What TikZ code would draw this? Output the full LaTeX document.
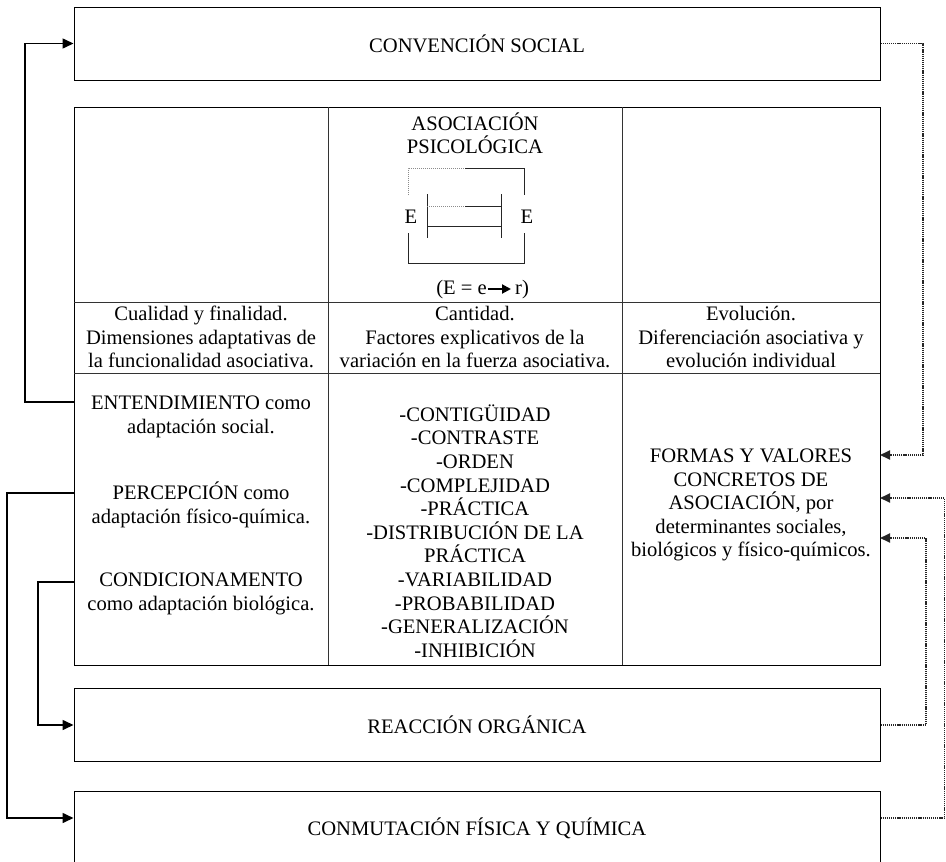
\documentclass[tikz,border=0pt]{standalone}
\usepackage{fontspec}
\setmainfont{Liberation Serif}
\usetikzlibrary{arrows.meta}
\begin{document}
\begin{tikzpicture}[x=1pt,y=-1pt,
  txt/.style={font=\fontsize{20.6}{23.5}\selectfont, align=center, inner sep=0pt},
  box/.style={draw, line width=1pt, minimum width=806pt, minimum height=73pt, inner sep=0pt, font=\fontsize{20.6}{23.5}\selectfont},
  tabline/.style={line width=1pt, black!80},
  solidcon/.style={line width=1.6pt, -{Triangle[length=11pt,width=10pt]}},
  dotcon/.style={line width=1.8pt, black!85, dash pattern=on 1.2pt off 0.9pt, -{Triangle[length=10pt,width=9pt]}},
  thinline/.style={line width=0.9pt, black!85},
  dotthin/.style={line width=0.9pt, black!45, dash pattern=on 1pt off 1pt},
  eqarrow/.style={line width=2pt, -{Triangle[length=9pt,width=9pt]}}
]
\useasboundingbox (0,0) rectangle (946,862);
\clip (0,0) rectangle (946,862);

% boxes
\node[box] (conv) at (477,43.5) {CONVENCIÓN SOCIAL};
\node[box] (reac) at (477,725) {REACCIÓN ORGÁNICA};
\node[box] (conm) at (477,828) {CONMUTACIÓN FÍSICA Y QUÍMICA};

% table
\node[draw, line width=1pt, minimum width=806pt, minimum height=558pt, inner sep=0pt] (tab) at (477,386) {};
\draw[tabline] (328,107) -- (328,665);
\draw[tabline] (622,107) -- (622,665);
\draw[tabline] (74,302) -- (880,302);
\draw[tabline] (74,373) -- (880,373);

% header
\node[txt] (asoc) at (475,133.5) {ASOCIACIÓN\\PSICOLÓGICA};
\draw[dotthin] (408,195) -- (408,168) -- (465,168);
\draw[thinline] (465,168) -- (524,168) -- (524,195);
\draw[thinline] (408,233) -- (408,263) -- (524,263) -- (524,233);
\draw[thinline] (427,194) -- (427,238);
\draw[thinline] (501,194) -- (501,238);
\draw[dotthin] (427,206) -- (465,206);
\draw[thinline] (465,206) -- (501,206);
\draw[thinline] (427,226) -- (501,226);
\node[txt] (el) at (411,217) {E};
\node[txt] (er) at (527,217) {E};
\node[txt, anchor=base east] (eqL) at (487,294) {(E = e};
\node[txt, anchor=base west] (eqR) at (515,294) {r)};
\draw[eqarrow] ([xshift=0.5pt,yshift=5pt]eqL.base east) -- ([xshift=-4pt,yshift=5pt]eqR.base west);

% row 2
\node[txt] (c1h) at (201,337) {Cualidad y finalidad.\\Dimensiones adaptativas de\\la funcionalidad asociativa.};
\node[txt] (c2h) at (475,337) {Cantidad.\\Factores explicativos de la\\variación en la fuerza asociativa.};
\node[txt] (c3h) at (751,337) {Evolución.\\Diferenciación asociativa y\\evolución individual};

% row 3
\node[txt] (ent) at (201,417) {ENTENDIMIENTO como\\adaptación social.};
\node[txt] (per) at (201,505) {PERCEPCIÓN como\\adaptación físico-química.};
\node[txt] (cond) at (201,594) {CONDICIONAMENTO\\como adaptación biológica.};
\node[txt, font=\fontsize{20.6}{23.6}\selectfont] (list) at (475,531) {-CONTIGÜIDAD\\-CONTRASTE\\-ORDEN\\-COMPLEJIDAD\\-PRÁCTICA\\-DISTRIBUCIÓN DE LA\\PRÁCTICA\\-VARIABILIDAD\\-PROBABILIDAD\\-GENERALIZACIÓN\\-INHIBICIÓN};
\node[txt] (formas) at (751,505) {FORMAS Y VALORES\\CONCRETOS DE\\ASOCIACIÓN, por\\determinantes sociales,\\biológicos y físico-químicos.};

% left connectors
\coordinate (entL) at (74,402);
\coordinate (perL) at (74,493);
\coordinate (condL) at (74,582);
\draw[solidcon] (entL) -- (25,402) |- (conv.west);
\draw[solidcon] (perL) -- (7,493) |- ([yshift=10pt]conm.west);
\draw[solidcon] (condL) -- (38,582) |- (reac.west);

% right connectors
\coordinate (in1) at (880,455);
\coordinate (in2) at (880,498);
\coordinate (in3) at (880,538);
\draw[dotcon] (conv.east) -- (923,43.5) |- (in1);
\draw[dotcon] ([yshift=10pt]conm.east) -- (944.5,818) |- (in2);
\draw[dotcon] (reac.east) -- (926,725) |- (in3);
\end{tikzpicture}
\end{document}
